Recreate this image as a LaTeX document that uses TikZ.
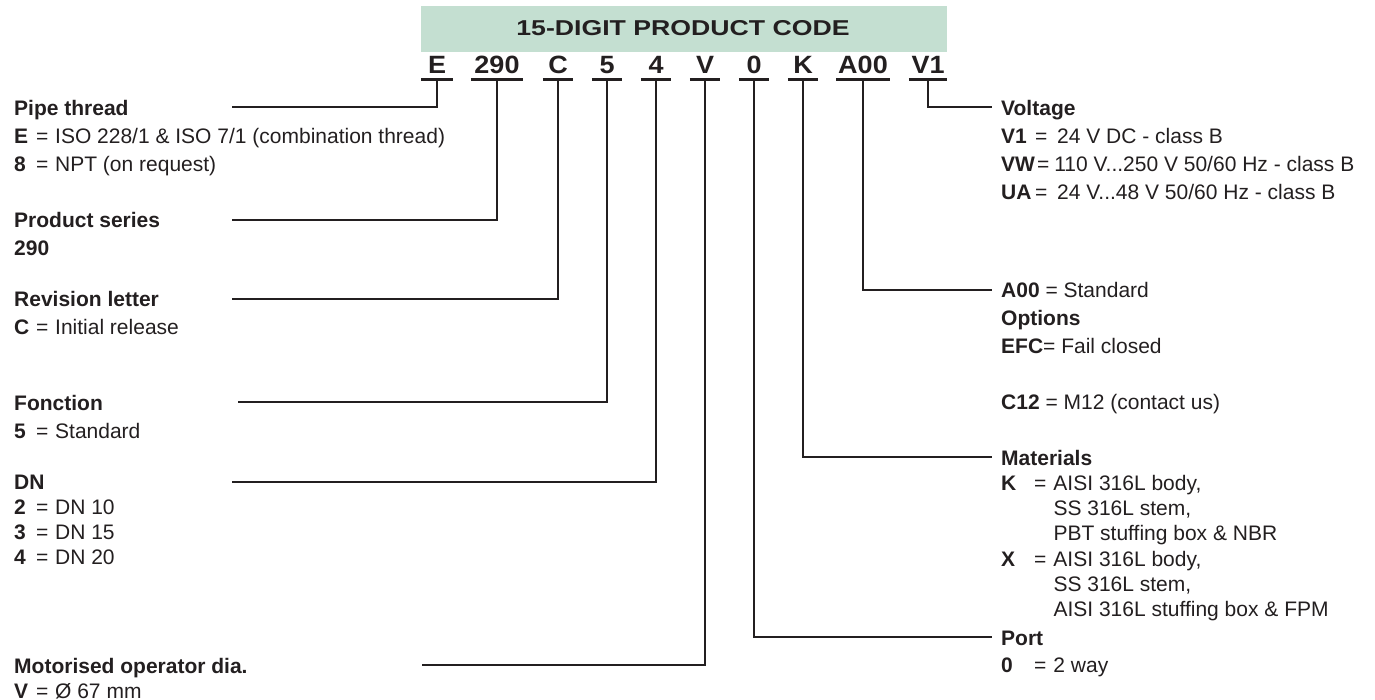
\documentclass[tikz,border=0pt]{standalone}
\usepackage{fontspec}
\setmainfont{Liberation Sans}
\definecolor{ink}{RGB}{35,31,32}
\definecolor{barg}{RGB}{196,223,209}
\newcommand{\blk}[2]{\vtop{\baselineskip=#1pt\lineskiplimit=-100pt\lineskip=0pt\relax #2}}
\newcommand{\kl}[1]{\makebox[22pt][l]{\textbf{#1}}=\hspace{6.7pt}}
\newcommand{\kv}[1]{\makebox[34pt][l]{\textbf{#1}}=\hspace{9.7pt}}
\newcommand{\km}[1]{\makebox[33pt][l]{\textbf{#1}}=\hspace{7pt}}
\begin{document}
\begin{tikzpicture}[x=1pt,y=-1pt,
  txt/.style={anchor=base west, inner sep=0pt, text=ink, font=\fontsize{21}{25}\selectfont},
  code/.style={anchor=base, inner sep=0pt, text depth=0pt, text=ink, font=\fontsize{25}{30}\selectfont\bfseries},
  uline/.style={draw=ink, line width=3pt},
  conn/.style={draw=ink, line width=1.8pt},
]
\useasboundingbox (0,0) rectangle (1375,700);

% title bar
\node[fill=barg, minimum width=526pt, minimum height=46pt, inner sep=0pt] (bar) at (684,29) {};
\node[anchor=base, inner sep=0pt, text=ink, font=\fontsize{21.5}{26}\selectfont\bfseries] (title) at (683,36) {\scalebox{1.24}[1]{15-DIGIT PRODUCT CODE}};

% code characters
\node[code, minimum width=31pt] (cE)   at (437,74)   {\scalebox{1.08}[1]{E}};
\node[code, minimum width=52pt] (c290) at (497,74)   {\scalebox{1.08}[1]{290}};
\node[code, minimum width=30pt] (cC)   at (558,74)   {\scalebox{1.08}[1]{C}};
\node[code, minimum width=30pt] (c5)   at (607,74)   {\scalebox{1.08}[1]{5}};
\node[code, minimum width=30pt] (c4)   at (656,74)   {\scalebox{1.08}[1]{4}};
\node[code, minimum width=30pt] (cV)   at (705,74)   {\scalebox{1.08}[1]{V}};
\node[code, minimum width=30pt] (c0)   at (754,74)   {\scalebox{1.08}[1]{0}};
\node[code, minimum width=30pt] (cK)   at (803,74)   {\scalebox{1.08}[1]{K}};
\node[code, minimum width=53pt] (cA)   at (863,74)   {\scalebox{1.08}[1]{A00}};
\node[code, minimum width=38pt] (cV1)  at (928,74)   {\scalebox{1.08}[1]{V1}};

\foreach \n in {cE,c290,cC,c5,c4,cV,c0,cK,cA,cV1}{
  \draw[uline] ([yshift=-5pt]\n.south west) -- ([yshift=-5pt]\n.south east);
}

% line ends
\coordinate (pE)   at (232,107);
\coordinate (p290) at (232,220);
\coordinate (pC)   at (232,299);
\coordinate (p5)   at (238,402);
\coordinate (p4)   at (232,482);
\coordinate (pV)   at (422,665);
\coordinate (p0)   at (992,637);
\coordinate (pK)   at (992,457);
\coordinate (pA)   at (992,290);
\coordinate (pV1)  at (992,107);

\draw[conn] ([yshift=-6pt]cE.south)   |- (pE);
\draw[conn] ([yshift=-6pt]c290.south) |- (p290);
\draw[conn] ([yshift=-6pt]cC.south)   |- (pC);
\draw[conn] ([yshift=-6pt]c5.south)   |- (p5);
\draw[conn] ([yshift=-6pt]c4.south)   |- (p4);
\draw[conn] ([yshift=-6pt]cV.south)   |- (pV);
\draw[conn] ([yshift=-6pt]c0.south)   |- (p0);
\draw[conn] ([yshift=-6pt]cK.south)   |- (pK);
\draw[conn] ([yshift=-6pt]cA.south)   |- (pA);
\draw[conn] ([yshift=-6pt]cV1.south)  |- (pV1);

% left texts
\node[txt] (pipe) at (14,116) {\blk{28}{\hbox{\textbf{Pipe thread}}\hbox{\kl{E}ISO 228/1 \& ISO 7/1 (combination thread)}\hbox{\kl{8}NPT (on request)}}};
\node[txt] (series) at (14,228) {\blk{28}{\hbox{\textbf{Product series}}\hbox{\textbf{290}}}};
\node[txt] (rev) at (14,307) {\blk{28}{\hbox{\textbf{Revision letter}}\hbox{\kl{C}Initial release}}};
\node[txt] (fon) at (14,410) {\blk{28}{\hbox{\textbf{Fonction}}\hbox{\kl{5}Standard}}};
\node[txt] (dn) at (14,489) {\blk{25}{\hbox{\textbf{DN}}\hbox{\kl{2}DN 10}\hbox{\kl{3}DN 15}\hbox{\kl{4}DN 20}}};
\node[txt] (mot) at (14,673) {\blk{25}{\hbox{\textbf{Motorised operator dia.}}\hbox{\kl{V}Ø 67 mm}}};

% right texts
\node[txt] (volt) at (1001,116) {\blk{28}{\hbox{\textbf{Voltage}}\hbox{\kv{V1}24 V DC - class B}\hbox{\textbf{VW}\hspace{2pt}=\hspace{5pt}110 V...250 V 50/60 Hz - class B}\hbox{\kv{UA}24 V...48 V 50/60 Hz - class B}}};
\node[txt] (opt) at (1001,298) {\blk{28}{\hbox{\textbf{A00} = Standard}\hbox{\textbf{Options}}\hbox{\textbf{EFC}= Fail closed}\hbox{}\hbox{\textbf{C12} = M12 (contact us)}}};
\node[txt] (mat) at (1001,465) {\blk{25.3}{\hbox{\textbf{Materials}}\hbox{\km{K}AISI 316L body,}\hbox{\hspace{52.3pt}SS 316L stem,}\hbox{\hspace{52.3pt}PBT stuffing box \& NBR}\hbox{\km{X}AISI 316L body,}\hbox{\hspace{52.3pt}SS 316L stem,}\hbox{\hspace{52.3pt}AISI 316L stuffing box \& FPM}}};
\node[txt] (port) at (1001,645) {\blk{27}{\hbox{\textbf{Port}}\hbox{\km{0}2 way}}};
\end{tikzpicture}
\end{document}
